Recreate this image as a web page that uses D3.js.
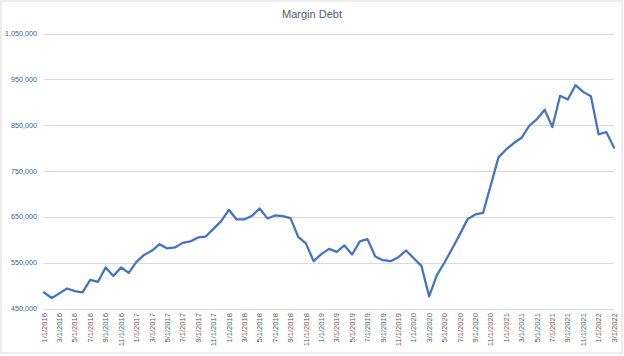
<!DOCTYPE html>
<html>
<head>
<meta charset="utf-8">
<script src="https://cdn.jsdelivr.net/npm/d3@7"></script>
<style>
html,body{margin:0;padding:0;background:#fff;}
svg{display:block;font-family:"Liberation Sans",Arial,sans-serif;}
</style>
</head>
<body>
<svg id="chart" width="624" height="356"></svg>
<script>
const title = "Margin Debt";
const categories = [
"1/1/2016","2/1/2016","3/1/2016","4/1/2016","5/1/2016","6/1/2016","7/1/2016","8/1/2016","9/1/2016","10/1/2016","11/1/2016","12/1/2016",
"1/1/2017","2/1/2017","3/1/2017","4/1/2017","5/1/2017","6/1/2017","7/1/2017","8/1/2017","9/1/2017","10/1/2017","11/1/2017","12/1/2017",
"1/1/2018","2/1/2018","3/1/2018","4/1/2018","5/1/2018","6/1/2018","7/1/2018","8/1/2018","9/1/2018","10/1/2018","11/1/2018","12/1/2018",
"1/1/2019","2/1/2019","3/1/2019","4/1/2019","5/1/2019","6/1/2019","7/1/2019","8/1/2019","9/1/2019","10/1/2019","11/1/2019","12/1/2019",
"1/1/2020","2/1/2020","3/1/2020","4/1/2020","5/1/2020","6/1/2020","7/1/2020","8/1/2020","9/1/2020","10/1/2020","11/1/2020","12/1/2020",
"1/1/2021","2/1/2021","3/1/2021","4/1/2021","5/1/2021","6/1/2021","7/1/2021","8/1/2021","9/1/2021","10/1/2021","11/1/2021","12/1/2021",
"1/1/2022","2/1/2022","3/1/2022"
];
const values = [
484900,473000,483000,493700,487800,485000,512500,508000,539500,521000,539500,527700,
551700,567000,575800,590400,581000,583200,593200,596300,605000,607000,623800,640600,
665300,644300,644300,652200,668300,646500,653000,651500,647200,606300,592000,553300,
568600,580000,573600,587500,567900,596300,601300,563500,555500,553300,562000,576600,
559800,543000,476200,522700,550400,581000,612200,645000,655200,658700,719000,779700,
797000,811000,822500,848700,863300,883600,845800,914000,906000,937200,922600,913200,
830000,835000,801000
];
const yTicks = [450000,550000,650000,750000,850000,950000,1050000];

const svg = d3.select("#chart");
const W = 624, H = 356;

svg.append("rect").attr("x",1).attr("y",1).attr("width",621).attr("height",352)
  .attr("fill","#fff").attr("stroke","#d9d9d9").attr("stroke-width",1);

const x = d3.scalePoint().domain(categories).range([44, 614]);
const y = d3.scaleLinear().domain([450000,1050000]).range([308.5, 33.5]);

// gridlines
svg.append("g").selectAll("line").data(yTicks).join("line")
  .attr("x1",44).attr("x2",614)
  .attr("y1",d=>Math.round(y(d))+0.5).attr("y2",d=>Math.round(y(d))+0.5)
  .attr("stroke","#d9d9d9").attr("stroke-width",1);

// y axis labels
const fmt = d3.format(",");
svg.append("g").selectAll("text").data(yTicks).join("text")
  .attr("x",37).attr("y",d=>y(d)).attr("dy","0.35em")
  .attr("text-anchor","end").attr("font-size","7.2px").attr("fill","#595959")
  .text(d=>fmt(d));

// x axis labels
const shown = categories.filter((c,i)=>i%2===0);
svg.append("g").selectAll("text").data(shown).join("text")
  .attr("transform",d=>`translate(${x(d)},313) rotate(-90)`)
  .attr("dy","0.35em").attr("text-anchor","end")
  .attr("font-size","7.6px").attr("fill","#595959")
  .text(d=>d);

// line
const line = d3.line().x((d,i)=>x(categories[i])).y(d=>y(d));
svg.append("path").datum(values).attr("d",line)
  .attr("fill","none").attr("stroke","#4472C4").attr("stroke-width",2.25)
  .attr("stroke-linejoin","round").attr("stroke-linecap","round");

svg.append("text").attr("x",312).attr("y",18).attr("text-anchor","middle")
  .attr("font-size","11px").attr("fill","#595959").text(title);
</script>
</body>
</html>
